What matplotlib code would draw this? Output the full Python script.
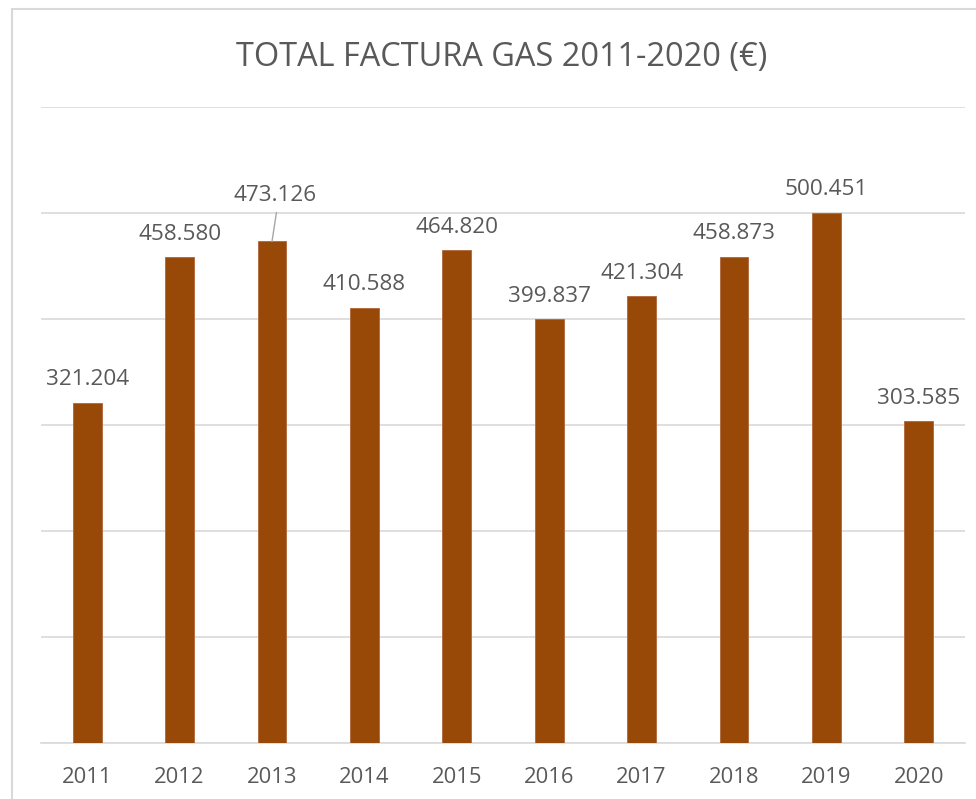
import matplotlib.pyplot as plt
from matplotlib.patches import Rectangle

# Total gas bill per year (EUR)
years = ['2011', '2012', '2013', '2014', '2015', '2016', '2017', '2018', '2019', '2020']
totals = [321204, 458580, 473126, 410588, 464820, 399837, 421304, 458873, 500451, 303585]

bar_color = '#984807'
text_color = '#595959'
grid_color = '#d9d9d9'
plt.rcParams['font.family'] = ['Open Sans', 'DejaVu Sans']

fig = plt.figure(figsize=(9.76, 7.99), dpi=100)
ax = fig.add_axes([41 / 976, 1 - 743 / 799, 924 / 976, (743 - 107) / 799])

x = range(len(years))
ax.bar(x, totals, width=0.31, color=bar_color, edgecolor='#b0663a', linewidth=0.6, zorder=3)

ax.set_xlim(-0.5, len(years) - 0.5)
ax.set_ylim(0, 600000)
ax.set_yticks(range(0, 600001, 100000))
ax.yaxis.grid(True, color=grid_color, linewidth=1.2, zorder=0)
ax.tick_params(axis='y', left=False, labelleft=False)
ax.tick_params(axis='x', bottom=False, labelsize=15.8, labelcolor=text_color, pad=13.5)
ax.set_xticks(list(x))
ax.set_xticklabels(years)
for s in ['top', 'right', 'left']:
    ax.spines[s].set_visible(False)
ax.spines['bottom'].set_color(grid_color)
ax.spines['bottom'].set_linewidth(1.2)

# data labels, spanish thousands separator
for i, v in enumerate(totals):
    label = f"{v:,}".replace(",", ".")
    if years[i] == '2013':
        # label pushed up with a leader line
        ax.annotate(label, (i, v), xytext=(2, 29), textcoords='offset points',
                    ha='center', va='baseline', fontsize=16.2, color=text_color,
                    arrowprops=dict(arrowstyle='-', color='#a6a6a6', lw=1,
                                    shrinkA=0, shrinkB=0,
                                    relpos=(0.52, -0.3)))
    else:
        ax.annotate(label, (i, v), xytext=(0, 12.5), textcoords='offset points',
                    ha='center', va='baseline', fontsize=16.2, color=text_color)

fig.text(502 / 976, 1 - 66 / 799, 'TOTAL FACTURA GAS 2011-2020 (€)',
         ha='center', va='baseline', fontsize=23.4, color=text_color)

# chart area border (cropped at right and bottom)
fig.patches.append(Rectangle((11.5 / 976, -0.1), 1.2, 1.1 - 8.5 / 799,
                             transform=fig.transFigure, fill=False,
                             edgecolor=grid_color, linewidth=1.5))

fig.savefig('out.png', dpi=100)
